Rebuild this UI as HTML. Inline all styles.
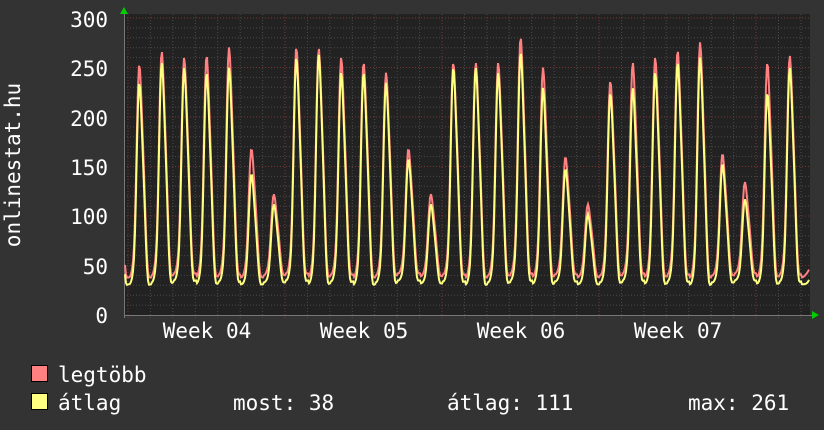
<!DOCTYPE html>
<html><head><meta charset="utf-8"><style>
html,body{margin:0;padding:0;background:#333;}
svg{display:block;}
text{font-family:"DejaVu Sans Mono","Liberation Mono",monospace;fill:#fff;font-size:21px;}
</style></head><body>
<svg id="s" width="824" height="430" xmlns="http://www.w3.org/2000/svg">
<rect width="824" height="430" fill="#333"/>
<rect x="124" y="14" width="686" height="301" fill="#222"/>
<g id="grid"></g>
<g id="data"></g>
<g>
<text x="108" y="27" text-anchor="end">300</text>
<text x="108" y="76" text-anchor="end">250</text>
<text x="108" y="126" text-anchor="end">200</text>
<text x="108" y="175" text-anchor="end">150</text>
<text x="108" y="224" text-anchor="end">100</text>
<text x="108" y="274" text-anchor="end">50</text>
<text x="108" y="323" text-anchor="end">0</text>
<text x="207" y="338" text-anchor="middle">Week 04</text>
<text x="364" y="338" text-anchor="middle">Week 05</text>
<text x="521" y="338" text-anchor="middle">Week 06</text>
<text x="678" y="338" text-anchor="middle">Week 07</text>
<text transform="translate(20,165) rotate(-90)" text-anchor="middle">onlinestat.hu</text>
<rect x="31.5" y="365.5" width="16" height="16" fill="#ff8080" stroke="#000"/>
<rect x="31.5" y="393.5" width="16" height="16" fill="#ffff80" stroke="#000"/>
<text x="58" y="382">legtöbb</text>
<text x="58" y="410">átlag</text>
<text x="233" y="410">most: 38</text>
<text x="447" y="410">átlag: 111</text>
<text x="688" y="410">max: 261</text>
</g>
<polygon points="120,14 128,14 124,7" fill="#0c0"/>
<polygon points="812,311 812,319 819,315" fill="#0c0"/>
</svg>
<script>
var g=document.getElementById('grid'),d=document.getElementById('data'),h='';
function Y(v){return 315-v*0.99;}
for(var v=10;v<=300;v+=10){var y=Y(v).toFixed(1);h+='<line x1="124" x2="810" y1="'+y+'" y2="'+y+'" stroke="'+(v%50?'#4a4a4a':'#7a3535')+'" stroke-dasharray="1,2"/>';}
for(var x=128;x<810;x+=22.43){var maj=Math.abs(((x-128)/157)-Math.round((x-128)/157))<0.01;h+='<line y1="14" y2="318" x1="'+x.toFixed(1)+'" x2="'+x.toFixed(1)+'" stroke="'+(maj?'#7a3535':'#4a4a4a')+'" stroke-dasharray="1,2"/>';}
h+='<line x1="124" x2="812" y1="315.5" y2="315.5" stroke="#777"/><line x1="124.5" x2="124.5" y1="12" y2="318" stroke="#777"/>';
g.innerHTML=h;
var P=[[248,230],[261,250],[255,245],[257,240],[265,245],[165,140],[120,110],[265,255],[264,258],[255,240],[250,240],[240,230],[165,155],[120,110],[250,245],[250,245],[250,240],[275,260],[245,225],[157,145],[110,100],[232,220],[250,225],[255,240],[262,250],[270,255],[160,150],[132,115],[250,220],[257,245],[48,40]];
function val(x,k){var t=(x-140)/22.43+0.5;var i=Math.floor(t);var ph=t-i;if(i<0){i=0;}if(i>=P.length)i=P.length-1;
var pk=P[i][k],base=k?33:40;base+=((i*7)%5)-2;
var c=0.5-0.5*Math.cos(2*Math.PI*ph);var f=Math.pow(c,2.2);
var bump=0.08*Math.sin(6*Math.PI*ph)*c;
var v=base+(pk-base)*(f+bump);v+=k?0:(8*c*(1-f));return Math.max(base-3,v);}
var r='',yl='';
for(var x=125;x<=809;x+=1){r+=x+','+Y(val(x,0)).toFixed(1)+' ';yl+=x+','+Y(val(x,1)).toFixed(1)+' ';}
d.innerHTML='<polyline points="'+r+'" fill="none" stroke="#ff8080" stroke-width="2"/><polyline points="'+yl+'" fill="none" stroke="#ffff80" stroke-width="2"/>';
</script>
</body></html>
